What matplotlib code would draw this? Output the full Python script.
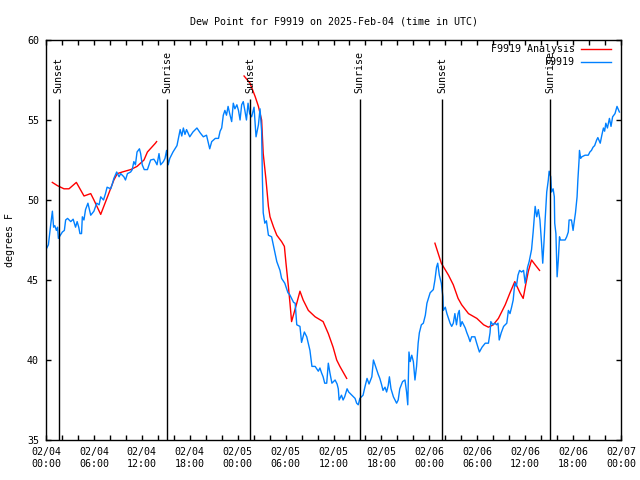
import matplotlib
matplotlib.use("Agg")
import matplotlib.pyplot as plt

# hours since 2025-02-04 00:00 UTC
obs_hours = [0.0, 0.3, 0.6, 0.8, 0.95, 1.1, 1.3, 1.45, 1.55, 1.8, 2.05, 2.3, 2.46, 2.7, 3.1, 3.4,
             3.7, 3.9, 4.1, 4.25, 4.45, 4.55, 4.75, 4.95, 5.25, 5.6, 6.0, 6.35, 6.65, 6.85, 7.2, 7.45,
             7.65, 8.1, 8.3, 8.5, 8.85, 9.15, 9.35, 9.75, 9.95, 10.2, 10.6, 10.8, 11.0, 11.2, 11.4, 11.7,
             11.85, 12.05, 12.3, 12.7, 13.1, 13.5, 13.7, 13.9, 14.15, 14.35, 14.7, 14.9, 15.1, 15.3, 15.5, 15.9,
             16.4, 16.8, 17.0, 17.2, 17.4, 17.6, 18.0, 18.4, 18.9, 19.3, 19.7, 20.1, 20.5, 20.75, 21.2, 21.6,
             21.8, 22.0, 22.2, 22.4, 22.6, 22.8, 23.0, 23.25, 23.45, 23.65, 23.9, 24.1, 24.3, 24.5, 24.7, 24.9,
             25.1, 25.3, 25.5, 25.75, 26.05, 26.3, 26.6, 26.8, 27.0, 27.1, 27.2, 27.4, 27.6, 27.85, 28.25, 28.5,
             28.9, 29.3, 29.5, 29.9, 30.3, 30.5, 31.0, 31.2, 31.4, 31.8, 32.0, 32.35, 32.65, 33.05, 33.3, 33.7,
             34.1, 34.3, 34.5, 34.7, 34.9, 35.15, 35.35, 35.55, 35.8, 36.2, 36.45, 36.6, 36.7, 37.0, 37.2, 37.4,
             37.7, 37.9, 38.3, 38.7, 38.9, 39.1, 39.3, 39.7, 39.95, 40.2, 40.45, 40.8, 41.0, 41.2, 41.4, 41.6,
             41.8, 42.0, 42.2, 42.45, 42.65, 42.85, 43.0, 43.2, 43.5, 43.9, 44.1, 44.3, 44.65, 44.95, 45.15, 45.3,
             45.45, 45.6, 45.8, 46.0, 46.2, 46.4, 46.6, 46.75, 47.0, 47.25, 47.5, 47.7, 48.1, 48.5, 48.7, 48.9,
             49.05, 49.25, 49.5, 49.7, 49.75, 50.0, 50.2, 50.4, 50.6, 50.8, 51.0, 51.2, 51.4, 51.6, 51.75, 51.9,
             52.1, 52.3, 52.5, 52.7, 52.9, 53.1, 53.3, 53.7, 53.9, 54.27, 54.6, 55.0, 55.4, 55.6, 55.7, 55.95,
             56.2, 56.45, 56.6, 56.75, 57.0, 57.3, 57.7, 57.9, 58.1, 58.3, 58.5, 58.7, 58.9, 59.1, 59.3, 59.55,
             59.8, 60.0, 60.15, 60.3, 60.5, 60.8, 61.0, 61.25, 61.45, 61.65, 61.85, 62.05, 62.2, 62.35, 62.5, 62.7,
             62.9, 63.0, 63.2, 63.3, 63.5, 63.65, 63.7, 63.85, 64.0, 64.15, 64.3, 64.4, 65.0, 65.2, 65.4, 65.5,
             65.8, 66.0, 66.1, 66.3, 66.5, 66.6, 66.75, 66.8, 66.95, 67.1, 67.5, 67.9, 68.1, 68.3, 68.5, 68.7,
             68.95, 69.1, 69.4, 69.6, 69.8, 69.95, 70.1, 70.3, 70.55, 70.75, 70.95, 71.25, 71.5, 71.8]
obs_dewpt = [46.9, 47.2, 48.5, 49.3, 48.3, 48.4, 48.1, 48.3, 47.6, 47.8, 48.0, 48.1, 48.75, 48.85, 48.65, 48.8,
             48.3, 48.65, 48.3, 47.9, 47.9, 48.95, 48.75, 49.4, 49.8, 49.05, 49.3, 49.8, 49.7, 50.2, 50.0, 50.4,
             50.8, 50.7, 51.0, 51.35, 51.75, 51.45, 51.65, 51.45, 51.25, 51.65, 51.75, 51.9, 52.4, 52.2, 53.0, 53.2,
             52.9, 52.2, 51.9, 51.9, 52.5, 52.55, 52.4, 52.2, 52.9, 52.2, 52.4, 52.6, 53.1, 52.2, 52.6, 53.0,
             53.4, 54.4, 54.0, 54.5, 54.1, 54.4, 53.95, 54.25, 54.5, 54.2, 53.95, 54.05, 53.2, 53.65, 53.85, 53.85,
             54.3, 54.5, 55.3, 55.6, 55.3, 55.85, 55.4, 54.9, 56.05, 55.7, 55.95, 55.6, 55.0, 55.95, 56.15, 55.6,
             55.0, 56.05, 55.4, 55.2, 55.8, 53.95, 54.7, 55.7, 54.3, 51.25, 49.2, 48.55, 48.7, 47.8, 47.7, 47.1,
             46.15, 45.6, 45.1, 44.8, 44.2, 44.1, 43.6, 43.55, 42.2, 42.1, 41.1, 41.75, 41.45, 40.6, 39.6, 39.6,
             39.3, 39.5, 39.2, 38.95, 38.55, 38.55, 39.8, 39.2, 38.55, 38.75, 38.5, 38.2, 37.5, 37.8, 37.5, 37.7,
             38.2, 38.0, 37.8, 37.6, 37.3, 37.2, 37.6, 37.8, 38.35, 38.85, 38.5, 38.95, 40.0, 39.7, 39.4, 39.1,
             38.85, 38.5, 38.1, 38.3, 38.0, 38.4, 38.95, 38.2, 37.7, 37.3, 37.5, 38.2, 38.65, 38.75, 38.0, 37.2,
             40.5, 39.9, 40.3, 39.9, 38.75, 39.6, 41.05, 41.7, 42.2, 42.3, 42.8, 43.55, 44.2, 44.4, 45.0, 45.8,
             46.05, 45.3, 44.8, 43.95, 43.1, 43.3, 42.9, 42.6, 42.3, 42.1, 42.3, 42.9, 42.2, 42.9, 43.1, 42.1,
             42.4, 42.2, 42.0, 41.7, 41.45, 41.15, 41.45, 41.45, 41.1, 40.5, 40.8, 41.05, 41.05, 41.7, 42.4, 42.2,
             42.3, 42.2, 42.3, 41.25, 41.7, 42.1, 42.3, 43.1, 42.9, 43.3, 43.75, 44.8, 44.6, 45.3, 45.6, 45.5,
             45.6, 44.8, 45.3, 45.8, 46.15, 46.9, 48.0, 49.6, 48.95, 49.4, 48.75, 47.3, 46.05, 47.3, 48.75, 50.5,
             51.25, 51.8, 51.45, 50.5, 50.7, 50.2, 48.55, 47.9, 45.2, 46.25, 47.7, 47.5, 47.5, 47.7, 48.0, 48.75,
             48.75, 48.1, 48.5, 49.2, 50.2, 51.25, 52.5, 53.1, 52.6, 52.7, 52.8, 52.8, 53.0, 53.1, 53.3, 53.4,
             53.75, 53.9, 53.55, 54.05, 54.5, 54.3, 54.8, 54.5, 55.1, 54.6, 55.2, 55.4, 55.85, 55.5]

# analysis runs (three separate pieces)
ana1_hours = [0.79, 1.42, 2.25, 2.88, 3.8, 4.76, 5.6, 6.0, 6.85, 7.7, 8.5, 8.93, 9.55, 10.6, 11.4, 12.27, 12.7, 13.7, 13.85]
ana1_dewpt = [51.1, 50.9, 50.7, 50.7, 51.1, 50.25, 50.4, 50.0, 49.1, 50.2, 51.25, 51.65, 51.75, 51.9, 52.1, 52.5, 53.0, 53.55, 53.65]
ana2_hours = [24.8, 25.55, 26.2, 26.6, 27.0, 27.2, 27.55, 27.85, 28.05, 28.5, 28.9, 29.5, 29.85, 30.05, 30.35, 30.55,
              30.75, 31.4, 31.8, 32.2, 32.85, 33.7, 34.7, 35.35, 35.95, 36.4, 36.8, 37.65]
ana2_dewpt = [57.75, 57.3, 56.45, 55.85, 55.0, 52.9, 51.25, 49.6, 48.95, 48.3, 47.8, 47.4, 47.1, 46.05, 44.6, 43.55,
              42.4, 43.55, 44.3, 43.75, 43.1, 42.7, 42.4, 41.65, 40.8, 40.0, 39.6, 38.85]
ana3_hours = [48.7, 49.5, 50.4, 51.0, 51.6, 52.05, 52.9, 53.95, 54.8, 55.4, 56.0, 56.65, 57.5, 58.1, 58.7, 59.35,
              59.75, 60.1, 60.4, 60.8, 61.25, 61.8]
ana3_dewpt = [47.3, 46.05, 45.3, 44.7, 43.85, 43.45, 42.9, 42.6, 42.2, 42.05, 42.2, 42.6, 43.45, 44.2, 44.9, 44.2,
              43.85, 44.8, 45.55, 46.25, 45.95, 45.6]

sun_hours = [1.6, 15.2, 25.6, 39.3, 49.6, 63.15]
sun_labels = ["Sunset", "Sunrise", "Sunset", "Sunrise", "Sunset", "Sunrise"]

tick_hours = [0, 6, 12, 18, 24, 30, 36, 42, 48, 54, 60, 66, 72]
tick_labels = ["02/04\n00:00", "02/04\n06:00", "02/04\n12:00", "02/04\n18:00",
               "02/05\n00:00", "02/05\n06:00", "02/05\n12:00", "02/05\n18:00",
               "02/06\n00:00", "02/06\n06:00", "02/06\n12:00", "02/06\n18:00",
               "02/07\n00:00"]

plt.rcParams["font.family"] = ["DejaVu Sans Mono"]
plt.rcParams["font.size"] = 7.2

fig = plt.figure(figsize=(6.4, 4.8), dpi=100)
ax = fig.add_axes([46/640, 40/480, 575/640, 400/480])

red = "#ff0000"
blue = "#0080ff"
ax.plot(ana1_hours, ana1_dewpt, color=red, lw=1, label="F9919 Analysis")
ax.plot(ana2_hours, ana2_dewpt, color=red, lw=1)
ax.plot(ana3_hours, ana3_dewpt, color=red, lw=1)
ax.plot(obs_hours, obs_dewpt, color=blue, lw=1, label="F9919")

ax.vlines(sun_hours, 35, 56.3, color="black", lw=1)
for h, s in zip(sun_hours, sun_labels):
    ax.text(h, 56.7, s, rotation=90, ha="center", va="bottom")

ax.set_xlim(0, 72)
ax.set_ylim(35, 60)
ax.set_xticks(tick_hours)
ax.set_xticklabels(tick_labels)
ax.set_xticks(range(0, 73, 2), minor=True)
ax.set_yticks([35, 40, 45, 50, 55, 60])
ax.tick_params(which="both", direction="in", top=True, right=True, length=3.5, width=1)
ax.tick_params(axis="x", pad=5)
ax.tick_params(axis="y", pad=5)
for sp in ax.spines.values():
    sp.set_linewidth(1)

ax.set_title("Dew Point for F9919 on 2025-Feb-04 (time in UTC)", fontsize=7.2, pad=11)
fig.text(10/640, 0.5, "degrees F", rotation=90, ha="center", va="center")

ax.legend(loc="upper right", bbox_to_anchor=(611/640, 1 - 44/480), bbox_transform=fig.transFigure,
          frameon=False, markerfirst=False, handlelength=3.0, handletextpad=0.6,
          labelspacing=0.32, borderpad=0, borderaxespad=0)

fig.savefig("out.png", dpi=100)
